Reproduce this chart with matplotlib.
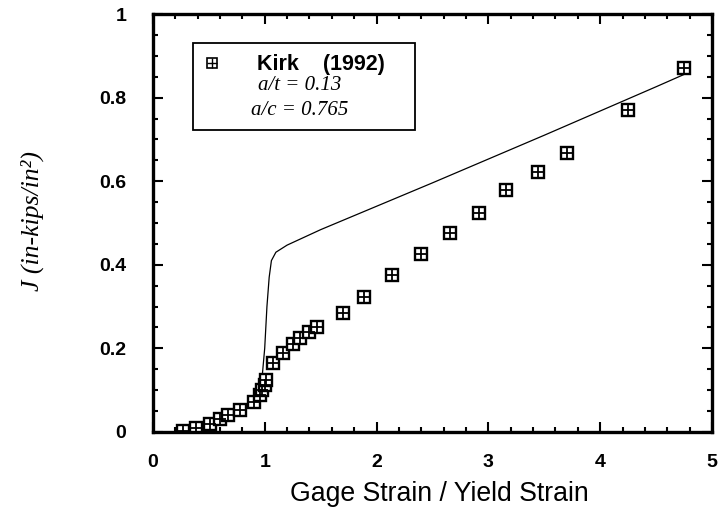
import matplotlib.pyplot as plt
from matplotlib.patches import Rectangle
from matplotlib.ticker import MultipleLocator

# Kirk (1992) test data: J versus normalised gage strain
strain_test = [0.27, 0.39, 0.51, 0.60, 0.67, 0.78, 0.90, 0.96, 0.98, 1.00, 1.01,
               1.07, 1.16, 1.25, 1.32, 1.40, 1.47, 1.70, 1.89, 2.14, 2.40, 2.66,
               2.92, 3.16, 3.44, 3.70, 4.25, 4.75]
j_test = [0.003, 0.010, 0.020, 0.030, 0.040, 0.052, 0.072, 0.088, 0.100, 0.112, 0.125,
          0.165, 0.190, 0.210, 0.225, 0.240, 0.250, 0.285, 0.322, 0.375, 0.425, 0.475,
          0.525, 0.578, 0.622, 0.667, 0.770, 0.870]

# predicted curve
strain_pred = [0.25, 0.40, 0.55, 0.70, 0.80, 0.90, 0.95, 0.98, 1.00, 1.02, 1.04,
               1.06, 1.10, 1.20, 1.50, 2.00, 2.50, 3.00, 3.50, 4.00, 4.50, 4.78]
j_pred = [0.000, 0.008, 0.020, 0.038, 0.053, 0.078, 0.100, 0.140, 0.200, 0.300, 0.370,
          0.410, 0.430, 0.447, 0.484, 0.540, 0.596, 0.653, 0.710, 0.768, 0.826, 0.859]

sans = "Liberation Sans"
serif = "Liberation Serif"

fig = plt.figure(figsize=(7.28, 5.21), dpi=100)
ax = fig.add_axes([0.210, 0.171, 0.768, 0.802])

ax.plot(strain_pred, j_pred, color="black", lw=0.9)
ax.plot(strain_test, j_test, ls="none", marker="s", ms=9, mfc="white",
        mec="black", mew=1.7)
ax.plot(strain_test, j_test, ls="none", marker="+", ms=9, mec="black", mew=1.3)

ax.set_xlim(0, 5)
ax.set_ylim(0, 1)
ax.xaxis.set_major_locator(MultipleLocator(1))
ax.xaxis.set_minor_locator(MultipleLocator(0.2))
ax.yaxis.set_major_locator(MultipleLocator(0.2))
ax.yaxis.set_minor_locator(MultipleLocator(0.05))
ax.set_yticks([0, 0.2, 0.4, 0.6, 0.8, 1.0], ["0", "0.2", "0.4", "0.6", "0.8", "1"])
ax.tick_params(which="both", direction="in", top=True, right=True, width=1.5)
ax.tick_params(which="major", length=7, labelsize=14)
ax.tick_params(axis="x", which="major", pad=16)
ax.tick_params(axis="y", which="major", pad=19)
ax.tick_params(which="minor", length=3.5)
for lab in ax.get_xticklabels() + ax.get_yticklabels():
    lab.set_fontfamily(sans)
    lab.set_fontweight("bold")
for sp in ax.spines.values():
    sp.set_linewidth(2.4)

ax.set_xlabel("Gage Strain / Yield Strain", fontfamily=sans, fontsize=19.2)
ax.xaxis.set_label_coords(0.512, -0.118)
ax.set_ylabel("J (in-kips/in²)", fontfamily=serif, fontstyle="italic", fontsize=18.5)
ax.yaxis.set_label_coords(-0.195, 0.505)

# legend box
ax.add_patch(Rectangle((0.0716, 0.722), 0.397, 0.209, transform=ax.transAxes,
                       fill=False, ec="black", lw=1.3, zorder=5))
ax.plot([0.1055], [0.882], transform=ax.transAxes, marker="s", ms=7, mfc="white",
        mec="black", mew=1.2, zorder=6)
ax.plot([0.1055], [0.882], transform=ax.transAxes, marker="+", ms=7, mec="black",
        mew=1.0, zorder=6)
ax.text(0.186, 0.879, "Kirk    (1992)", transform=ax.transAxes, fontfamily=sans,
        fontweight="bold", fontsize=15.5, va="center", ha="left")
ax.text(0.263, 0.830, "a/t = 0.13", transform=ax.transAxes, fontfamily=serif,
        fontstyle="italic", fontsize=15, va="center", ha="center")
ax.text(0.263, 0.770, "a/c = 0.765", transform=ax.transAxes, fontfamily=serif,
        fontstyle="italic", fontsize=15, va="center", ha="center")

fig.savefig("out.png", dpi=100)
